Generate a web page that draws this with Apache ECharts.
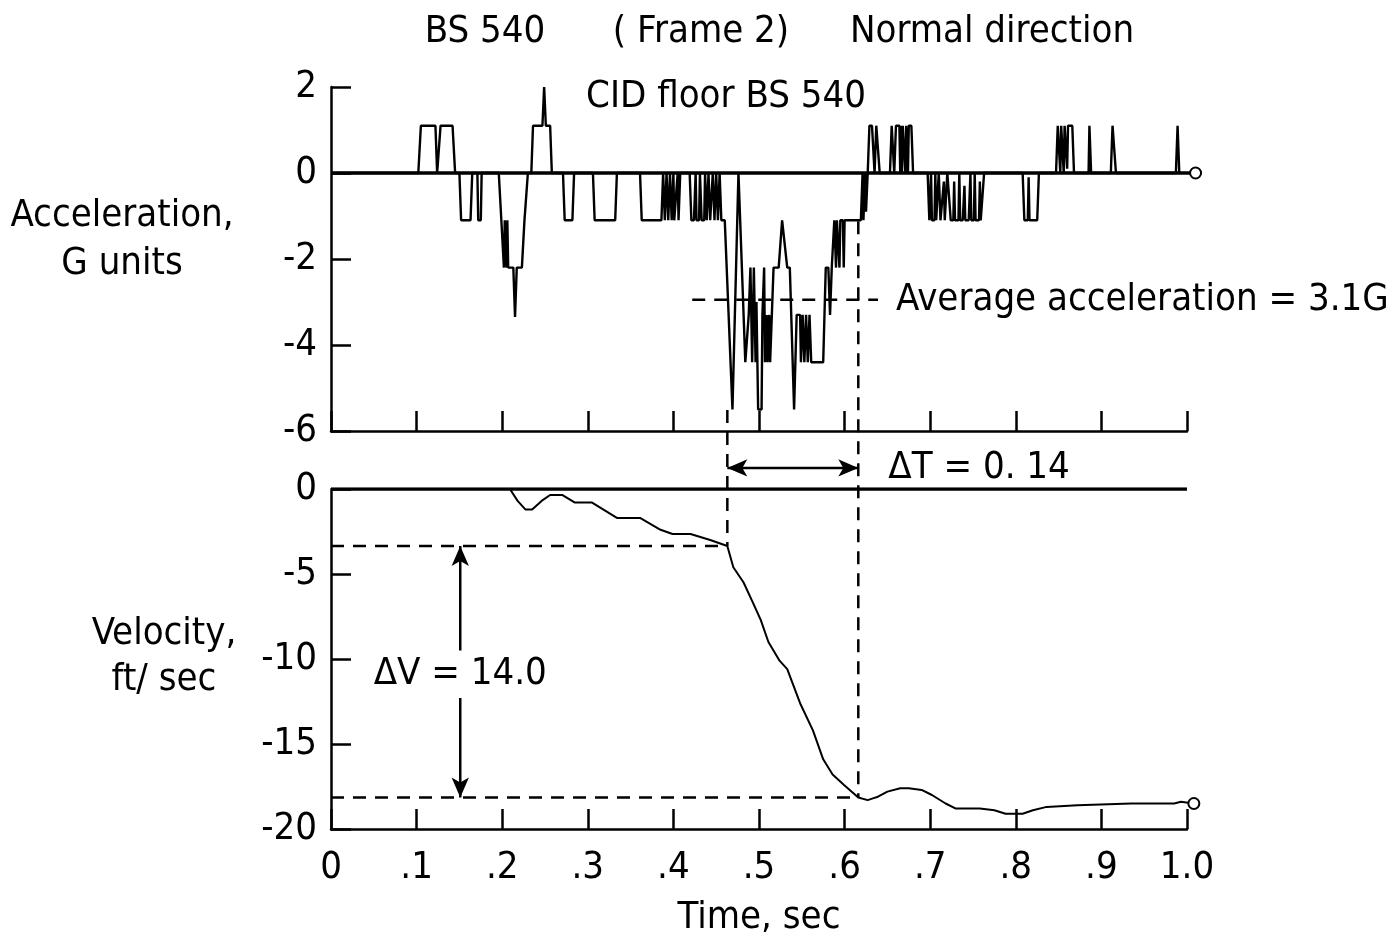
<!DOCTYPE html>
<html>
<head>
<meta charset="UTF-8">
<title>BS 540 Normal direction</title>
<script src="https://cdn.jsdelivr.net/npm/echarts@6/dist/echarts.min.js"></script>
<style>
html, body { margin: 0; padding: 0; background: #fff; }
#main { width: 1387px; height: 943px; }
</style>
</head>
<body>
<div id="main"></div>
<script type="text/javascript">
// acceleration trace, G units
var accTime = [
  0, 0.102, 0.105, 0.122, 0.124, 0.126, 0.128, 0.142, 0.145, 0.150,
  0.152, 0.163, 0.165, 0.171, 0.172, 0.175, 0.176, 0.196, 0.199, 0.201,
  0.202, 0.203, 0.205, 0.206, 0.207, 0.213, 0.215, 0.217, 0.223, 0.226,
  0.228, 0.230, 0.234, 0.236, 0.247, 0.249, 0.251, 0.256, 0.258, 0.271,
  0.273, 0.282, 0.284, 0.306, 0.308, 0.332, 0.334, 0.361, 0.363, 0.386,
  0.388, 0.390, 0.392, 0.394, 0.396, 0.398, 0.400, 0.401, 0.403, 0.405,
  0.406, 0.408, 0.419, 0.421, 0.424, 0.426, 0.427, 0.430, 0.431, 0.433,
  0.436, 0.437, 0.439, 0.441, 0.443, 0.445, 0.446, 0.448, 0.450, 0.452,
  0.454, 0.456, 0.460, 0.469, 0.471, 0.476, 0.478, 0.484, 0.486, 0.488,
  0.490, 0.492, 0.494, 0.496, 0.497, 0.499, 0.503, 0.504, 0.506, 0.507,
  0.509, 0.510, 0.512, 0.513, 0.515, 0.517, 0.523, 0.527, 0.529, 0.533,
  0.536, 0.541, 0.544, 0.548, 0.549, 0.551, 0.553, 0.555, 0.557, 0.559,
  0.561, 0.575, 0.578, 0.581, 0.583, 0.585, 0.588, 0.590, 0.591, 0.594,
  0.595, 0.598, 0.599, 0.600, 0.619, 0.621, 0.622, 0.624, 0.625, 0.627,
  0.629, 0.632, 0.635, 0.637, 0.639, 0.641, 0.653, 0.655, 0.657, 0.658,
  0.660, 0.664, 0.665, 0.666, 0.667, 0.668, 0.670, 0.671, 0.672, 0.674,
  0.675, 0.678, 0.680, 0.697, 0.699, 0.701, 0.702, 0.705, 0.706, 0.707,
  0.709, 0.710, 0.712, 0.714, 0.716, 0.717, 0.719, 0.720, 0.722, 0.724,
  0.727, 0.728, 0.729, 0.733, 0.734, 0.735, 0.738, 0.740, 0.741, 0.745,
  0.747, 0.748, 0.751, 0.752, 0.753, 0.757, 0.758, 0.759, 0.761, 0.763,
  0.808, 0.810, 0.814, 0.815, 0.816, 0.825, 0.827, 0.847, 0.849, 0.851,
  0.852, 0.853, 0.855, 0.856, 0.857, 0.859, 0.860, 0.861, 0.866, 0.868,
  0.885, 0.886, 0.887, 0.888, 0.911, 0.913, 0.915, 0.917, 0.987, 0.989,
  0.991
];
var accG = [
  0, 0, 1.1, 1.1, 0, 0, 1.1, 1.1, 0, 0,
  -1.1, -1.1, 0, 0, -1.1, -1.1, 0, 0, -1.1, -1.1,
  -2.2, -1.1, -2.2, -1.1, -2.2, -2.2, -3.35, -2.2, -2.2, -1.1,
  -1.1, 0, 0, 1.1, 1.1, 2.0, 1.1, 1.1, 0, 0,
  -1.1, -1.1, 0, 0, -1.1, -1.1, 0, 0, -1.1, -1.1,
  0, -1.1, 0, -1.1, 0, -1.1, 0, -1.1, -1.1, 0,
  -1.1, 0, 0, -1.1, -1.1, 0, -1.1, -1.1, 0, -1.1,
  -1.1, 0, -1.1, 0, -1.1, -1.1, 0, -1.1, 0, -1.1,
  0, -1.1, -1.1, -5.5, -5.5, 0, 0, -4.4, -4.4, -3.3,
  -2.2, -4.4, -2.2, -4.4, -3.0, -5.5, -5.5, -3.3, -2.2, -4.4,
  -3.3, -4.4, -3.3, -4.4, -3.3, -2.2, -2.2, -1.1, -1.1, -2.2,
  -2.2, -5.5, -3.3, -3.3, -4.4, -3.3, -4.4, -3.3, -4.4, -3.3,
  -4.4, -4.4, -2.2, -2.2, -3.3, -2.2, -1.1, -2.2, -1.1, -2.2,
  -1.1, -1.1, -2.2, -1.1, -1.1, 0, -1.1, 0, -0.9, 0,
  1.1, 1.1, 0, 1.1, 1.1, 0, 0, 1.1, 1.1, 0,
  1.1, 1.1, 0, 1.1, 0, 1.1, 1.1, 0, 1.1, 0,
  1.1, 1.1, 0, 0, -1.1, 0, -1.1, -1.1, 0, -1.1,
  -1.1, 0, -1.1, -1.1, -0.2, -1.1, -1.1, 0, 0, -1.1,
  -1.1, -0.2, -1.1, -1.1, 0, -1.1, -1.1, -0.3, -1.1, -1.1,
  0, -1.1, -1.1, 0, -1.1, -1.1, -0.2, -1.1, -1.1, 0,
  0, -1.1, -1.1, -0.1, -1.1, -1.1, 0, 0, 1.1, 1.1,
  0, 1.1, 1.1, 0, 1.1, 1.1, 0.1, 1.1, 1.1, 0,
  0, 1.1, 1.1, 0, 0, 1.1, 1.1, 0, 0, 1.1,
  0
];

// velocity trace, ft/sec
var velTime = [
  0, 0.209, 0.218, 0.227, 0.235, 0.246, 0.256, 0.270, 0.285, 0.305,
  0.334, 0.361, 0.385, 0.399, 0.420, 0.443, 0.463, 0.470, 0.482, 0.493,
  0.502, 0.511, 0.524, 0.533, 0.548, 0.563, 0.575, 0.586, 0.599, 0.616,
  0.627, 0.633, 0.639, 0.650, 0.665, 0.675, 0.690, 0.702, 0.718, 0.730,
  0.758, 0.775, 0.788, 0.808, 0.820, 0.836, 0.872, 0.935, 0.985, 0.993,
  1.008
];
var velFps = [
  0, 0, -0.7, -1.2, -1.2, -0.7, -0.35, -0.35, -0.8, -0.8,
  -1.7, -1.7, -2.4, -2.65, -2.65, -3.0, -3.35, -4.6, -5.5, -6.7,
  -7.7, -9.0, -10.1, -10.6, -12.6, -14.2, -15.9, -16.8, -17.4, -18.15,
  -18.3, -18.2, -18.1, -17.8, -17.6, -17.6, -17.7, -18.0, -18.5, -18.8,
  -18.8, -18.9, -19.1, -19.1, -18.9, -18.7, -18.6, -18.5, -18.5, -18.4,
  -18.5
];

// annotation values
var pulseStart = 0.463, pulseEnd = 0.616;   // dashed verticals
var vStart = -3.35, vEnd = -18.15;          // dashed horizontals
var avgG = -2.95, avgFrom = 0.422, avgTo = 0.639;
var dvTime = 0.151;
var xTicks = ['0', '.1', '.2', '.3', '.4', '.5', '.6', '.7', '.8', '.9', '1.0'];

var FONT = "'Liberation Sans Narrow', 'DejaVu Sans Condensed', 'Roboto Condensed', 'Noto Sans', sans-serif";
var FS = 38;
var INK = '#000';

function zip(a, b) {
  var out = [];
  for (var i = 0; i < a.length; i++) out.push([a[i], b[i]]);
  return out;
}

var accData = zip(accTime, accG);
var velData = zip(velTime, velFps);
velData[velData.length - 1] = { value: velData[velData.length - 1], symbol: 'emptyCircle', symbolSize: 11 };

var axisCommon = {
  axisLine: { show: true, onZero: false, lineStyle: { color: INK, width: 2.5 } },
  axisTick: { show: true, inside: true, length: 20, lineStyle: { color: INK, width: 2.5 } },
  splitLine: { show: false }
};

function dashed(grid, pts, extra) {
  var s = {
    type: 'line', xAxisIndex: grid, yAxisIndex: grid, data: pts,
    symbol: 'none', clip: false, silent: true, z: 3,
    lineStyle: { color: INK, width: 2.5, type: [13, 9] }
  };
  for (var k in extra) s[k] = extra[k];
  return s;
}

function arrowPt(p, rot) {
  return { value: p, symbol: 'arrow', symbolSize: [13, 20], symbolRotate: rot };
}

var myChart = echarts.init(document.getElementById('main'));

var option = {
  backgroundColor: '#fff',
  animation: false,
  textStyle: { fontFamily: FONT, color: INK },
  grid: [
    { left: 331, top: 87, width: 856, height: 344 },
    { left: 331, top: 489, width: 856, height: 340 }
  ],
  xAxis: [
    Object.assign({ type: 'value', gridIndex: 0, min: 0, max: 1, interval: 0.1,
      axisLabel: { show: false } }, axisCommon),
    Object.assign({ type: 'value', gridIndex: 1, min: 0, max: 1, interval: 0.1,
      axisLabel: { show: true, color: INK, fontFamily: FONT, fontSize: FS, margin: 20,
        formatter: function (v) { return xTicks[Math.round(v * 10)]; } } }, axisCommon)
  ],
  yAxis: [
    Object.assign({ type: 'value', gridIndex: 0, min: -6, max: 2, interval: 2,
      axisLabel: { color: INK, fontFamily: FONT, fontSize: FS, margin: 14 } }, axisCommon),
    Object.assign({ type: 'value', gridIndex: 1, min: -20, max: 0, interval: 5,
      axisLabel: { color: INK, fontFamily: FONT, fontSize: FS, margin: 14 } }, axisCommon)
  ],
  graphic: [
    { type: 'text', x: 485, y: 32, style: { text: 'BS 540', font: FS + 'px ' + FONT, fill: INK, textAlign: 'center', textVerticalAlign: 'middle' } },
    { type: 'text', x: 701, y: 32, style: { text: '( Frame 2)', font: FS + 'px ' + FONT, fill: INK, textAlign: 'center', textVerticalAlign: 'middle' } },
    { type: 'text', x: 992, y: 32, style: { text: 'Normal direction', font: FS + 'px ' + FONT, fill: INK, textAlign: 'center', textVerticalAlign: 'middle' } },
    { type: 'text', x: 726, y: 97, style: { text: 'CID floor BS 540', font: FS + 'px ' + FONT, fill: INK, textAlign: 'center', textVerticalAlign: 'middle' } },
    { type: 'text', x: 122, y: 240, style: { text: 'Acceleration,\nG units', font: FS + 'px ' + FONT, lineHeight: 48, fill: INK, textAlign: 'center', textVerticalAlign: 'middle' } },
    { type: 'text', x: 164, y: 657, style: { text: 'Velocity,\nft/ sec', font: FS + 'px ' + FONT, lineHeight: 46, fill: INK, textAlign: 'center', textVerticalAlign: 'middle' } },
    { type: 'text', x: 759, y: 918, style: { text: 'Time, sec', font: FS + 'px ' + FONT, fill: INK, textAlign: 'center', textVerticalAlign: 'middle' } }
  ],
  series: [
    // acceleration zero line with end marker
    {
      type: 'line', xAxisIndex: 0, yAxisIndex: 0, symbol: 'none', clip: false, silent: true,
      lineStyle: { color: INK, width: 3.5 }, itemStyle: { color: INK, borderWidth: 2 },
      data: [[0, 0], { value: [1.01, 0], symbol: 'emptyCircle', symbolSize: 11 }]
    },
    {
      name: 'Acceleration', type: 'line', xAxisIndex: 0, yAxisIndex: 0,
      symbol: 'none', clip: false, z: 4,
      lineStyle: { color: INK, width: 2.4 },
      data: accData
    },
    dashed(0, [[avgFrom, avgG], [avgTo, avgG]], {
      label: { show: false },
      endLabel: { show: true, formatter: 'Average acceleration = 3.1G', color: INK,
        fontFamily: FONT, fontSize: FS, distance: 18 }
    }),
    // velocity zero line
    {
      type: 'line', xAxisIndex: 1, yAxisIndex: 1, symbol: 'none', silent: true,
      lineStyle: { color: INK, width: 3.5 },
      data: [[0, 0], [1, 0]]
    },
    {
      name: 'Velocity', type: 'line', xAxisIndex: 1, yAxisIndex: 1,
      symbol: 'none', clip: false, z: 4,
      lineStyle: { color: INK, width: 2 }, itemStyle: { color: INK, borderWidth: 2 },
      data: velData
    },
    dashed(1, [[0, vStart], [pulseStart, vStart]]),
    dashed(1, [[0, vEnd], [pulseEnd, vEnd]]),
    dashed(1, [[pulseStart, 4.65], [pulseStart, vStart]]),
    dashed(1, [[pulseEnd, 15.75], [pulseEnd, vEnd]]),
    // delta T arrow
    {
      type: 'line', xAxisIndex: 1, yAxisIndex: 1, symbol: 'none', clip: false, silent: true,
      lineStyle: { color: INK, width: 2.5 }, itemStyle: { color: INK },
      data: [arrowPt([pulseStart, 1.24], 90), arrowPt([pulseEnd, 1.24], -90)],
      endLabel: { show: true, formatter: '\u0394T = 0. 14', color: INK, fontFamily: FONT, fontSize: FS, distance: 30 }
    },
    // delta V arrow
    {
      type: 'line', xAxisIndex: 1, yAxisIndex: 1, symbol: 'none', silent: true,
      lineStyle: { color: INK, width: 2.5 }, itemStyle: { color: INK },
      data: [arrowPt([dvTime, vStart], 0), [dvTime, -9.5]]
    },
    {
      type: 'line', xAxisIndex: 1, yAxisIndex: 1, symbol: 'none', silent: true,
      lineStyle: { color: INK, width: 2.5 }, itemStyle: { color: INK },
      data: [[dvTime, -12.3], arrowPt([dvTime, vEnd], 180)]
    },
    {
      type: 'scatter', xAxisIndex: 1, yAxisIndex: 1, symbolSize: 1, silent: true,
      itemStyle: { color: '#fff', opacity: 1 },
      label: { show: true, position: 'inside', formatter: '\u0394V = 14.0', color: INK, opacity: 1,
        textBorderWidth: 0, fontFamily: FONT, fontSize: FS },
      data: [[dvTime, -10.9]]
    }
  ]
};

myChart.setOption(option);
</script>
</body>
</html>
